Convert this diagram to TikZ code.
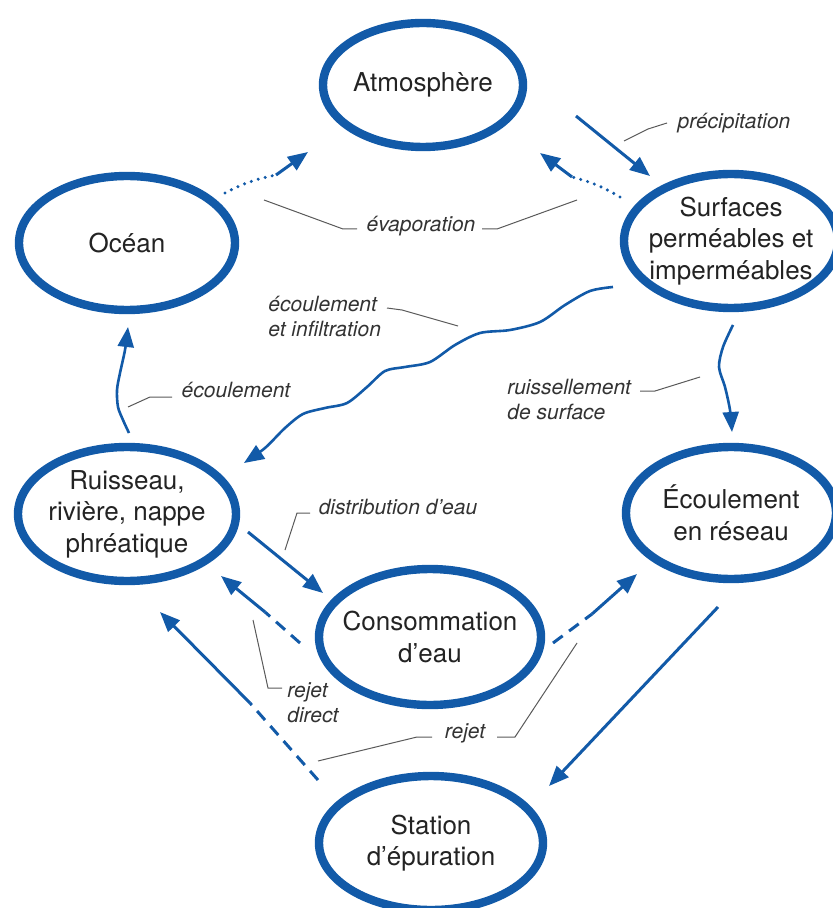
\documentclass[tikz,border=0pt]{standalone}
\usepackage{fontspec}
\setmainfont{TeX Gyre Heros}
\usetikzlibrary{shapes.geometric,arrows.meta}
\definecolor{waterblue}{RGB}{18,90,168}
\definecolor{inkgray}{RGB}{35,35,35}
\tikzset{
    water-node/.style = {draw=waterblue, line width=4.2pt, ellipse, inner xsep=-8pt, inner ysep=0pt, align=center, text=inkgray, font=\fontsize{13}{15.8}\selectfont},
    flow-arrow/.style = {draw=waterblue, line width=1.5pt, -{Triangle[length=10pt,width=8pt]}},
    flow-wave/.style = {draw=waterblue, line width=1.3pt, -{Triangle[length=10pt,width=8pt]}},
    flow-dots/.style = {draw=waterblue, line width=1.7pt, line cap=round, dash pattern=on 0pt off 3.6pt},
    flow-dashes/.style = {draw=waterblue, line width=1.5pt, dash pattern=on 6pt off 4pt},
    leader/.style = {draw=black!65, line width=0.5pt},
    flow-label/.style = {font=\fontsize{10.5}{12.5}\selectfont\itshape, text=black!80, align=left, inner sep=0pt},
}
\begin{document}
\begin{tikzpicture}[x=0.5pt, y=-0.5pt]
\useasboundingbox (0,0) rectangle (833,908);

% reservoirs
\node [water-node, minimum width=100pt, minimum height=62pt] (atm) at (423,85) {Atmosphère};
\node [water-node, minimum width=108pt, minimum height=67pt] (ocean) at (127,243) {Océan};
\node [water-node, minimum width=107pt, minimum height=67pt] (surf) at (731,241) {Surfaces\\perméables et\\imperméables};
\node [water-node, minimum width=109pt, minimum height=67pt] (ruis) at (127,514) {Ruisseau,\\rivière, nappe\\phréatique};
\node [water-node, minimum width=105pt, minimum height=66pt] (reseau) at (731,513) {Écoulement\\en réseau};
\node [water-node, minimum width=111pt, minimum height=68pt] (conso) at (430,637) {Consommation\\d’eau};
\node [water-node, minimum width=112pt, minimum height=67pt] (station) at (431,843) {Station\\d’épuration};

% free ends of the flows
\coordinate (precip-a) at (576,116);
\coordinate (precip-b) at (650,176);
\coordinate (evap-o1) at (225,193);
\coordinate (evap-o2) at (276,175);
\coordinate (evap-o3) at (308,152);
\coordinate (evap-s1) at (620,197);
\coordinate (evap-s2) at (572,177);
\coordinate (evap-s3) at (540,153);
\coordinate (distrib-a) at (248,532);
\coordinate (distrib-b) at (323,593);
\coordinate (direct-a) at (300,643);
\coordinate (direct-b) at (265,612);
\coordinate (direct-c) at (221,576);
\coordinate (vers-reseau-a) at (553,643);
\coordinate (vers-reseau-b) at (592,614);
\coordinate (vers-reseau-c) at (637,574);
\coordinate (vers-station-a) at (718,607);
\coordinate (vers-station-b) at (549,786);
\coordinate (rejet-a) at (318,780);
\coordinate (rejet-b) at (250,703);
\coordinate (rejet-c) at (160,612);

% flows
\draw [flow-arrow] (precip-a) -- (precip-b);
\draw [flow-dots] (evap-o1) to[bend left=8] (evap-o2);
\draw [flow-arrow] (evap-o2) -- (evap-o3);
\draw [flow-dots] (evap-s1) to[bend right=8] (evap-s2);
\draw [flow-arrow] (evap-s2) -- (evap-s3);
\draw [flow-wave] plot [smooth] coordinates {(613,287) (590,291) (565,305) (540,322) (510,330) (480,333) (455,345) (430,362) (405,367) (385,371) (367,387) (347,403) (325,408) (303,414) (285,428) (265,448) (244,463)};
\draw [flow-wave] plot [smooth] coordinates {(129,433) (123,420) (118,407) (117,390) (120,373) (125,350) (128,327)};
\draw [flow-wave] plot [smooth] coordinates {(733,325) (723,347) (719,367) (725,387) (730,410) (732,432)};
\draw [flow-arrow] (distrib-a) -- (distrib-b);
\draw [flow-dashes] (direct-a) -- (direct-b);
\draw [flow-arrow] (direct-b) -- (direct-c);
\draw [flow-dashes] (vers-reseau-a) -- (vers-reseau-b);
\draw [flow-arrow] (vers-reseau-b) -- (vers-reseau-c);
\draw [flow-arrow] (vers-station-a) -- (vers-station-b);
\draw [flow-dashes] (rejet-a) -- (rejet-b);
\draw [flow-arrow] (rejet-b) -- (rejet-c);

% labels and leaders
\node [flow-label] (lbl-precip) at (734,123) {précipitation};
\draw [leader] (624,141) -- (648,129) -- (lbl-precip.west -| 667,0);
\node [flow-label] (lbl-evap) at (421,226) {évaporation};
\draw [leader] (264,200) -- (343,229) -- (357,229);
\draw [leader] (482,229) -- (497,229) -- (577,200);
\node [flow-label, anchor=west] (lbl-infil) at (268,317) {écoulement\\et infiltration};
\draw [leader] (387,308) -- (402,310) -- (458,326);
\node [flow-label] (lbl-ecoul) at (236,390) {écoulement};
\draw [leader] (128,407) -- (150,397) -- (172,397);
\node [flow-label, anchor=west] (lbl-ruiss) at (507,400) {ruissellement\\de surface};
\draw [leader] (700,377) -- (655,391) -- (640,391);
\node [flow-label] (lbl-distrib) at (398,507) {distribution d’eau};
\draw [leader] (285,550) -- (297,513) -- (310,513);
\node [flow-label, anchor=west] (lbl-direct) at (287,703) {rejet\\direct};
\draw [leader] (253,620) -- (268,688) -- (282,688);
\node [flow-label] (lbl-rejet) at (465,733) {rejet};
\draw [leader] (318,761) -- (417,737) -- (432,737);
\draw [leader] (497,737) -- (515,737) -- (577,643);
\end{tikzpicture}
\end{document}
